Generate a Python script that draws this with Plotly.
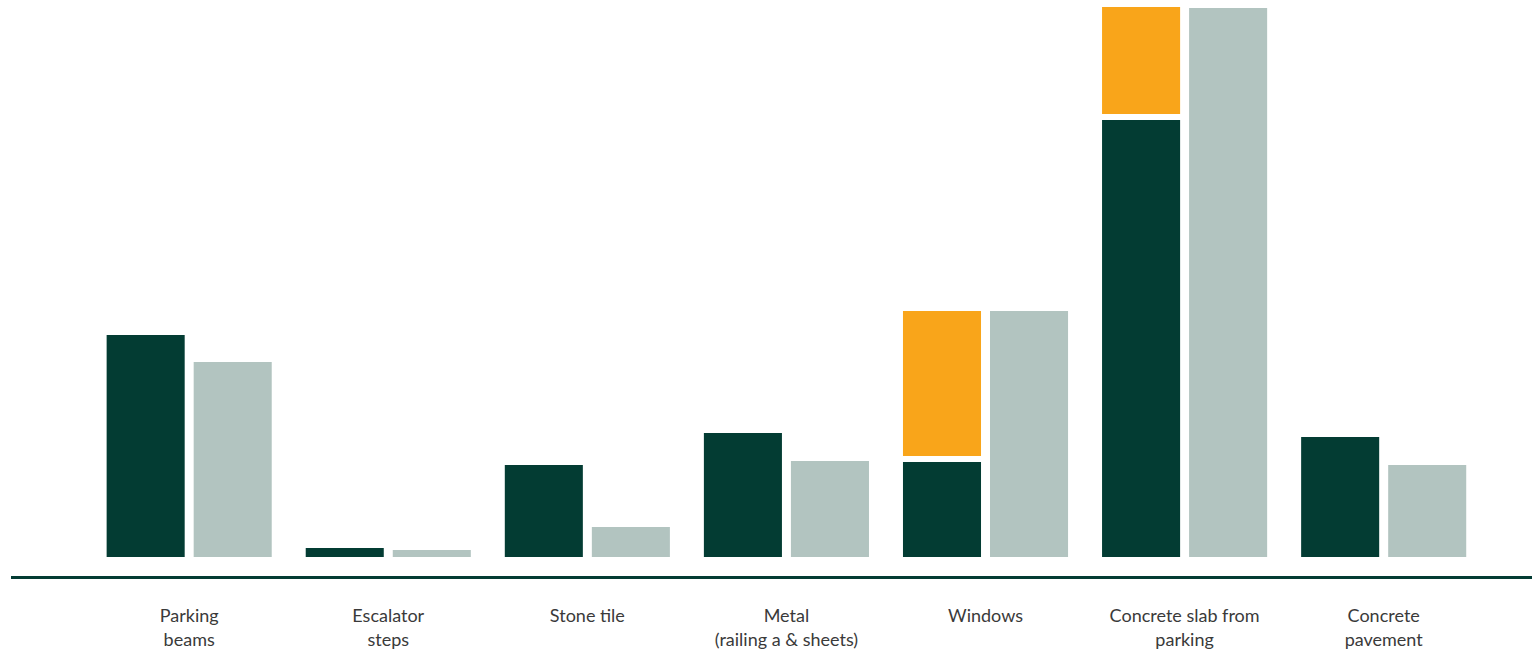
import plotly.graph_objects as go

categories = ["Parking<br>beams", "Escalator<br>steps", "Stone tile",
              "Metal<br>(railing a & sheets)", "Windows",
              "Concrete slab from<br>parking", "Concrete<br>pavement"]
dark_values = [228, 15, 98, 130, 101, 443, 126]
orange_values = [0, 0, 0, 0, 151, 113, 0]
light_values = [201, 13, 36, 102, 252, 555, 98]

DARK = "#033C33"
ORANGE = "#F9A51A"
LIGHT = "#B2C4C0"

W = 0.4222
line = dict(color="white", width=6)

fig = go.Figure()
fig.add_trace(go.Bar(x=categories, y=dark_values, width=W, offset=-0.4297,
                     marker=dict(color=DARK, line=line), name="Dark"))
fig.add_trace(go.Bar(x=categories, y=orange_values, base=dark_values, width=W, offset=-0.4297,
                     marker=dict(color=ORANGE, line=line), name="Orange"))
fig.add_trace(go.Bar(x=categories, y=light_values, width=W, offset=0.0075,
                     marker=dict(color=LIGHT, line=line), name="Light"))

fig.update_layout(
    width=1532, height=654,
    margin=dict(l=11, r=0, t=0, b=78),
    barmode="overlay",
    showlegend=False,
    plot_bgcolor="white", paper_bgcolor="white",
    font=dict(family="Lato", size=18, color="#3a3a3a"),
)
fig.update_xaxes(type="category", range=[-0.895, 6.745], showline=True,
                 linecolor=DARK, linewidth=2.5, showgrid=False, zeroline=False,
                 ticks="", ticklabelstandoff=22,
                 tickfont=dict(size=18, color="#3a3a3a"))
fig.update_yaxes(range=[-16, 560], visible=False, showgrid=False, zeroline=False)

fig.write_html("out.html", config={"displayModeBar": False},
               post_script="document.body.style.margin='0';document.body.style.overflow='hidden';")
